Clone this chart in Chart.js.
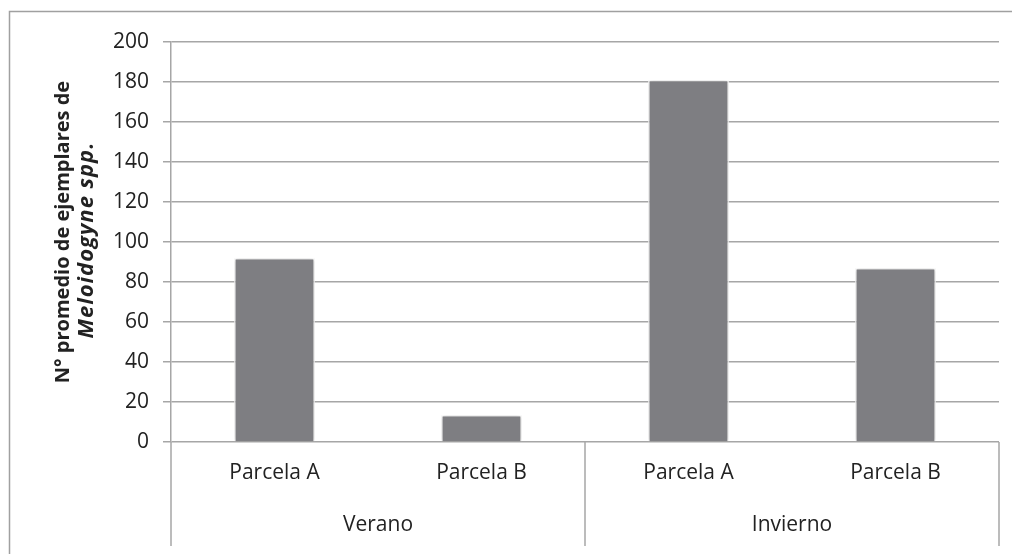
<!DOCTYPE html>
<html>
<head>
<meta charset="utf-8">
<script src="https://cdn.jsdelivr.net/npm/chart.js@4.4.1/dist/chart.umd.min.js"></script>
<style>
  html, body { margin: 0; padding: 0; background: #ffffff; }
  #wrap { width: 1012px; height: 554px; position: relative; }
</style>
</head>
<body>
<div id="wrap"><canvas id="c" width="1012" height="554"></canvas></div>
<script>
const categories = ['Parcela A', 'Parcela B', 'Parcela A', 'Parcela B'];
const seasons = ['Verano', 'Invierno'];
const seasonSize = [2, 2];
const values = [92, 13.5, 181, 87];
const yTicks = [0, 20, 40, 60, 80, 100, 120, 140, 160, 180, 200];
const yTitleLine1 = 'N° promedio de ejemplares de';
const yTitleLine2 = 'Meloidogyne spp.';

const FONT = "'Open Sans', 'Liberation Sans', sans-serif";
const GRID = '#a6a6a6';
const TEXT = '#222222';

const decor = {
  id: 'decor',
  beforeDatasetsDraw(chart) {
    const ctx = chart.ctx;
    ctx.save();
    ctx.shadowColor = 'rgba(0,0,0,0.28)';
    ctx.shadowBlur = 4;
    ctx.shadowOffsetX = 0;
    ctx.shadowOffsetY = 0;
  },
  afterDatasetsDraw(chart) {
    chart.ctx.restore();
  },
  afterDraw(chart) {
    const ctx = chart.ctx;
    const x = chart.scales.x;
    const area = chart.chartArea;
    const bottom = 546;
    ctx.save();
    // outer frame
    ctx.strokeStyle = '#a0a0a0';
    ctx.lineWidth = 1.5;
    ctx.strokeRect(9.5, 11.5, 1100, 700);
    // group separators
    ctx.strokeStyle = GRID;
    ctx.lineWidth = 1.5;
    const step = (x.getPixelForValue(1) - x.getPixelForValue(0));
    let idx = 0;
    const bounds = [x.getPixelForValue(0) - step / 2];
    seasons.forEach((s, i) => {
      idx += seasonSize[i];
      bounds.push(x.getPixelForValue(idx - 1) + step / 2);
    });
    bounds.forEach(b => {
      ctx.beginPath();
      ctx.moveTo(b, area.bottom);
      ctx.lineTo(b, bottom);
      ctx.stroke();
    });
    // group labels
    ctx.fillStyle = TEXT;
    ctx.font = '21px ' + FONT;
    ctx.textAlign = 'center';
    ctx.textBaseline = 'middle';
    seasons.forEach((s, i) => {
      ctx.fillText(s, (bounds[i] + bounds[i + 1]) / 2, 525);
    });
    // y title
    const cy = (area.top + area.bottom) / 2;
    ctx.translate(63, cy);
    ctx.rotate(-Math.PI / 2);
    ctx.font = 'bold 20px ' + FONT;
    ctx.fillText(yTitleLine1, 10, 0);
    ctx.font = 'italic bold 22px ' + FONT;
    try { ctx.letterSpacing = '1px'; } catch (e) {}
    ctx.fillText(yTitleLine2, 2, 24);
    ctx.restore();
  }
};

new Chart(document.getElementById('c'), {
  type: 'bar',
  data: {
    labels: categories,
    datasets: [{
      data: values,
      backgroundColor: '#7e7e82',
      borderColor: '#ffffff',
      borderWidth: 1.5,
      categoryPercentage: 1.0,
      barPercentage: 0.39
    }]
  },
  options: {
    responsive: false,
    animation: false,
    devicePixelRatio: 1,
    layout: { padding: { left: 0, top: 42, right: 13, bottom: 0 } },
    plugins: { legend: { display: false }, tooltip: { enabled: false } },
    scales: {
      x: {
        grid: { display: false, drawTicks: false },
        border: { display: false },
        ticks: { color: TEXT, font: { family: FONT, size: 21 }, padding: 18, maxRotation: 0 },
        afterFit(s) { s.height = 112; }
      },
      y: {
        min: 0, max: 200,
        afterBuildTicks(s) { s.ticks = yTicks.map(v => ({ value: v })); },
        grid: { color: GRID, lineWidth: 1.5, tickLength: 8 },
        border: { display: true, color: GRID, width: 1.5 },
        ticks: { color: TEXT, font: { family: FONT, size: 21 }, padding: 14 },
        afterFit(s) { s.width = 171; }
      }
    }
  },
  plugins: [decor]
});
</script>
</body>
</html>
